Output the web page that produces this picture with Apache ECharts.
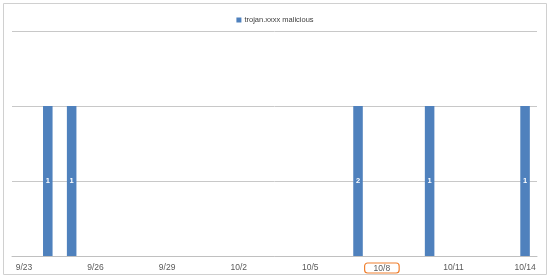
<!DOCTYPE html>
<html><head><meta charset="utf-8">
<script src="https://cdn.jsdelivr.net/npm/echarts@6/dist/echarts.min.js"></script>
<style>html,body{margin:0;padding:0;background:#fff;}#c{width:550px;height:280px;}</style>
</head><body><div id="c"></div>
<script>
var categories = ['9/23','9/24','9/25','9/26','9/27','9/28','9/29','9/30','10/1','10/2','10/3','10/4','10/5','10/6','10/7','10/8','10/9','10/10','10/11','10/12','10/13','10/14'];
var seriesName = 'trojan.xxxx malicious';
// bar heights as drawn (all bars reach the same gridline)
var barHeights = [null,2,2,null,null,null,null,null,null,null,null,null,null,null,2,null,null,2,null,null,null,2];
// data label texts shown on the bars
var barLabels = [null,'1','1',null,null,null,null,null,null,null,null,null,null,null,'2',null,null,'1',null,null,null,'1'];
var yTicks = [0,1,2,3];
var highlighted = '10/8';

var chart = echarts.init(document.getElementById('c'), null, {renderer:'canvas'});
chart.setOption({
  animation:false,
  graphic:[{type:'rect',shape:{x:3.5,y:3.5,width:543,height:271},style:{fill:'none',stroke:'#d0d0d0',lineWidth:1},silent:true}],
  legend:{top:11,left:'center',itemWidth:5,itemHeight:5,itemGap:4,icon:'rect',
    textStyle:{fontFamily:'Liberation Sans, Arial',fontSize:7.5,color:'#404040',padding:[0,0,0,-2]},data:[seriesName]},
  grid:{left:12,right:13,top:31,bottom:24,containLabel:false},
  xAxis:{type:'category',data:categories,boundaryGap:true,
    axisLine:{lineStyle:{color:'#c0c0c0'}},
    axisTick:{interval:2,length:4,lineStyle:{color:'#c0c0c0'}},
    axisLabel:{interval:2,margin:7,fontFamily:'Liberation Sans, Arial',fontSize:8.5,color:'#595959',
      formatter:function(v){return v===highlighted?'{h|'+v+'}':v;},
      rich:{h:{borderColor:'#f08030',borderWidth:1.2,borderRadius:3,padding:[1,9,0,9],fontSize:8.5,color:'#595959',fontFamily:'Liberation Sans, Arial'}}}},
  yAxis:{type:'value',min:yTicks[0],max:yTicks[yTicks.length-1],interval:1,show:true,
    axisLine:{show:false},axisTick:{show:false},axisLabel:{show:false},
    splitLine:{lineStyle:{color:'#c8c8c8'}}},
  series:[{name:seriesName,type:'bar',barWidth:'40%',itemStyle:{color:'#4f81bd'},
    data:barHeights,
    label:{show:true,position:'inside',color:'#fff',fontSize:7.5,fontWeight:'bold',fontFamily:'Liberation Sans, Arial',
      formatter:function(p){return barLabels[p.dataIndex];}}}]
});
</script></body></html>
